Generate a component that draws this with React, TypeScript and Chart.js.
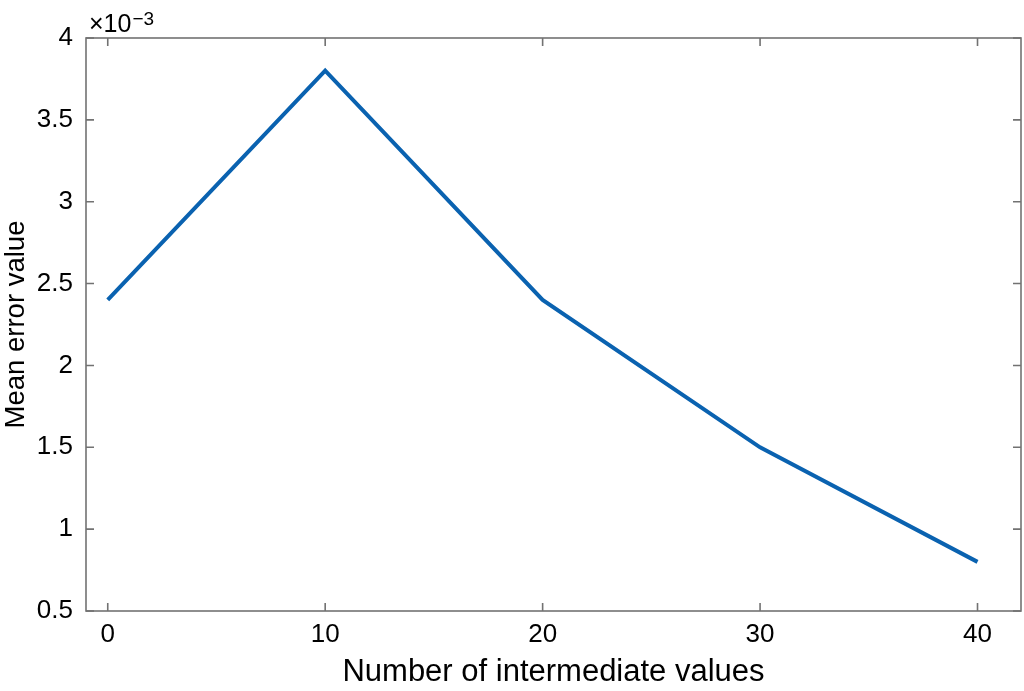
import React, { useEffect, useRef } from "react";
import { Chart, registerables } from "chart.js";

Chart.register(...registerables);

const xValues = [0, 10, 20, 30, 40];
const meanError = [2.4, 3.8, 2.4, 1.5, 0.8];
const xTicks = [0, 10, 20, 30, 40];
const yTicks = [0.5, 1, 1.5, 2, 2.5, 3, 3.5, 4];
const yTickLabels = ["0.5", "1", "1.5", "2", "2.5", "3", "3.5", "4"];

const FONT = "'Liberation Sans', Arial, Helvetica, sans-serif";
const BOX = "#727272";

const boxPlugin = {
  id: "matlabBox",
  afterDraw(chart: any) {
    const { ctx, chartArea: a, scales } = chart;
    ctx.save();
    ctx.strokeStyle = BOX;
    ctx.lineWidth = 1.6;
    ctx.strokeRect(a.left, a.top, a.right - a.left, a.bottom - a.top);
    const tl = 8;
    ctx.beginPath();
    for (const v of xTicks) {
      const px = scales.x.getPixelForValue(v);
      ctx.moveTo(px, a.bottom);
      ctx.lineTo(px, a.bottom - tl);
      ctx.moveTo(px, a.top);
      ctx.lineTo(px, a.top + tl);
    }
    for (const v of yTicks) {
      const py = scales.y.getPixelForValue(v);
      ctx.moveTo(a.left, py);
      ctx.lineTo(a.left + tl, py);
      ctx.moveTo(a.right, py);
      ctx.lineTo(a.right - tl, py);
    }
    ctx.stroke();
    // exponent annotation
    ctx.fillStyle = "#000";
    ctx.textBaseline = "alphabetic";
    ctx.textAlign = "left";
    ctx.font = `25px ${FONT}`;
    ctx.fillText("×10", a.left + 3, 32);
    const w = ctx.measureText("×10").width;
    ctx.font = `19px ${FONT}`;
    ctx.fillText("−3", a.left + 3 + w + 1, 25);
    ctx.restore();
  },
};

export default function App() {
  const ref = useRef<HTMLCanvasElement | null>(null);
  useEffect(() => {
    document.body.style.margin = "0";
    const chart = new Chart(ref.current as HTMLCanvasElement, {
      type: "line",
      data: {
        datasets: [
          {
            data: xValues.map((x, i) => ({ x, y: meanError[i] })),
            borderColor: "#0a62b0",
            borderWidth: 4,
            pointRadius: 0,
            tension: 0,
            fill: false,
          },
        ],
      },
      options: {
        animation: false,
        responsive: false,
        layout: { padding: { left: 0, top: 38, right: 3, bottom: 0 } },
        plugins: { legend: { display: false }, tooltip: { enabled: false } },
        scales: {
          x: {
            type: "linear",
            min: -1,
            max: 42,
            afterBuildTicks: (s: any) => {
              s.ticks = xTicks.map((v) => ({ value: v }));
            },
            afterFit: (s: any) => {
              s.height = 80;
            },
            grid: { display: false, drawTicks: false },
            border: { display: false },
            ticks: {
              color: "#000",
              font: { family: FONT, size: 26 },
              padding: 8,
              maxRotation: 0,
            },
            title: {
              display: true,
              text: "Number of intermediate values",
              color: "#000",
              font: { family: FONT, size: 31 },
              padding: { top: 6, bottom: 0 },
            },
          },
          y: {
            type: "linear",
            min: 0.5,
            max: 4,
            afterBuildTicks: (s: any) => {
              s.ticks = yTicks.map((v) => ({ value: v }));
            },
            afterFit: (s: any) => {
              s.width = 86;
            },
            grid: { display: false, drawTicks: false },
            border: { display: false },
            ticks: {
              color: "#000",
              font: { family: FONT, size: 26 },
              padding: 13,
              callback: (v: any) => {
                const i = yTicks.indexOf(Number(v));
                return i >= 0 ? yTickLabels[i] : "";
              },
            },
            title: {
              display: true,
              text: "Mean error value",
              color: "#000",
              font: { family: FONT, size: 27.5 },
              padding: { top: 0, bottom: 4 },
            },
          },
        },
      },
      plugins: [boxPlugin],
    });
    return () => chart.destroy();
  }, []);
  return (
    <div style={{ position: "absolute", left: 0, top: 0, width: 1024, height: 691 }}>
      <canvas ref={ref} width={1024} height={691} />
    </div>
  );
}
